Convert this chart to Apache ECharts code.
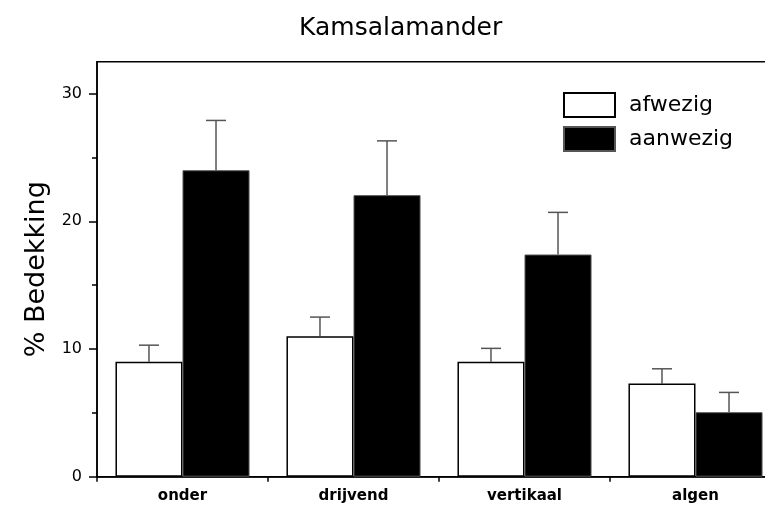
<!DOCTYPE html>
<html>
<head>
<meta charset="utf-8">
<script src="https://cdn.jsdelivr.net/npm/echarts@6/dist/echarts.min.js"></script>
<style>html,body{margin:0;padding:0;background:#fff}#c{width:765px;height:507px}</style>
</head>
<body>
<div id="c"></div>
<script>
const categories = ['onder', 'drijvend', 'vertikaal', 'algen'];
const seriesNames = ['afwezig', 'aanwezig'];
const afwezig = [9.0, 11.0, 9.0, 7.3];
const aanwezig = [24.0, 22.05, 17.4, 5.05];
const afwezigErrTop = [10.3, 12.5, 10.05, 8.45];
const aanwezigErrTop = [27.9, 26.3, 20.7, 6.6];
const yMajorTicks = [0, 10, 20, 30];
const yMinorTicks = [5, 15, 25];

const FONT = 'DejaVu Sans';
const catGap = 0.216;

function errSeries(means, tops, side) {
  return {
    type: 'custom',
    silent: true,
    z: 1,
    data: categories.map((c, i) => [i, means[i], tops[i]]),
    encode: { x: 0, y: [1, 2] },
    renderItem: function (params, api) {
      const i = api.value(0);
      const catW = api.size([1, 0])[0];
      const barW = catW * (1 - catGap) / 2;
      const base = api.coord([i, api.value(1)]);
      const top = api.coord([i, api.value(2)]);
      const x = base[0] + side * barW / 2;
      const half = 10;
      const style = { stroke: '#555', lineWidth: 1.5 };
      return {
        type: 'group',
        children: [
          { type: 'line', shape: { x1: x, y1: base[1], x2: x, y2: top[1] }, style: style },
          { type: 'line', shape: { x1: x - half, y1: top[1], x2: x + half, y2: top[1] }, style: style }
        ]
      };
    }
  };
}

const chart = echarts.init(document.getElementById('c'));
chart.setOption({
  animation: false,
  backgroundColor: '#fff',
  title: {
    text: 'Kamsalamander',
    left: 294, top: 11,
    textStyle: { fontFamily: FONT, fontSize: 25, fontWeight: 'normal', color: '#000' }
  },
  legend: {
    orient: 'vertical',
    left: 563, top: 92,
    icon: 'rect',
    itemWidth: 51, itemHeight: 24, itemGap: 8,
    padding: 0,
    data: seriesNames,
    textStyle: { fontFamily: FONT, fontSize: 22, color: '#000', padding: [0, 0, 0, 9] }
  },
  grid: {
    left: 97, top: 61.7, width: 684, bottom: 30.3,
    outerBoundsMode: 'none',
    show: true, borderColor: '#000', borderWidth: 1.5, backgroundColor: 'transparent'
  },
  xAxis: {
    type: 'category',
    data: categories,
    axisLine: { lineStyle: { color: '#000', width: 1.5 } },
    axisTick: { show: true, length: 5, lineStyle: { color: '#000', width: 1.5 } },
    axisLabel: { fontFamily: FONT, fontSize: 15, fontWeight: 'bold', color: '#000', margin: 12 }
  },
  yAxis: [{
    type: 'value',
    min: 0, max: 32.5, interval: 10,
    name: '% Bedekking',
    nameLocation: 'middle', nameGap: 47,
    nameTextStyle: { fontFamily: FONT, fontSize: 27, color: '#000' },
    axisLine: { show: true, lineStyle: { color: '#000', width: 1.5 } },
    axisTick: { show: true, length: 8, customValues: yMajorTicks, lineStyle: { color: '#000', width: 1.5 } },
    axisLabel: { customValues: yMajorTicks, fontFamily: FONT, fontSize: 16, color: '#000', margin: 15 },
    splitLine: { show: false }
  }, {
    type: 'value',
    position: 'left',
    min: 0, max: 32.5, interval: 10,
    axisLine: { show: false },
    axisTick: { show: true, length: 5, customValues: yMinorTicks, lineStyle: { color: '#000', width: 1.5 } },
    axisLabel: { show: false },
    splitLine: { show: false }
  }],
  series: [
    {
      name: 'afwezig', type: 'bar', data: afwezig, z: 2,
      barGap: '0%', barCategoryGap: (catGap * 100) + '%',
      itemStyle: { color: '#fff', borderColor: '#000', borderWidth: 1.5 }
    },
    {
      name: 'aanwezig', type: 'bar', data: aanwezig, z: 2,
      barGap: '0%', barCategoryGap: (catGap * 100) + '%',
      itemStyle: { color: '#000', borderColor: '#555', borderWidth: 1 }
    },
    errSeries(afwezig, afwezigErrTop, -1),
    errSeries(aanwezig, aanwezigErrTop, 1)
  ]
});
</script>
</body>
</html>
